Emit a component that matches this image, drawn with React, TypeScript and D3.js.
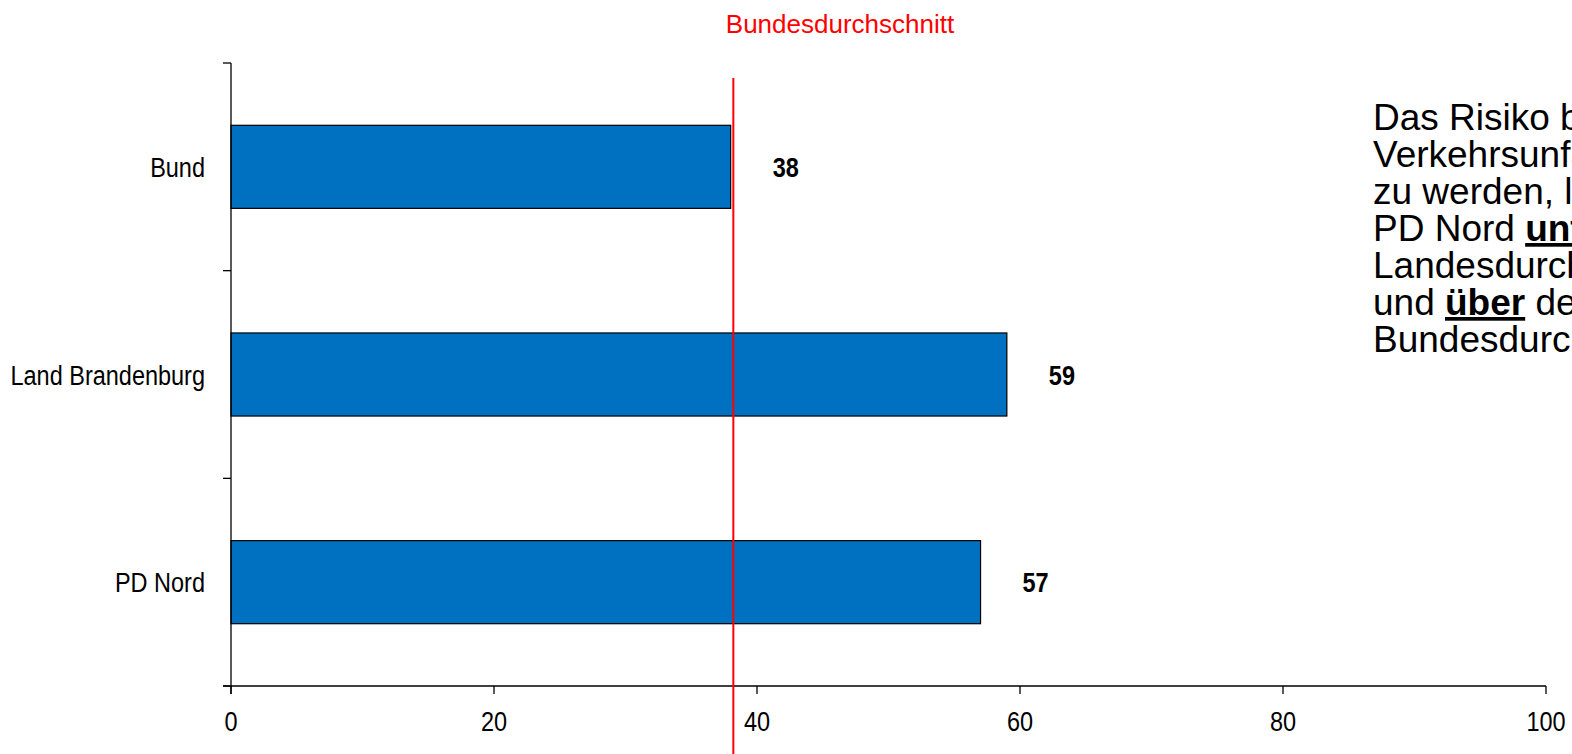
import React from "react";
import * as d3 from "d3";

const categories = ["Bund", "Land Brandenburg", "PD Nord"];
const values = [38, 59, 57];
const xTicks = [0, 20, 40, 60, 80, 100];
const averageValue = 38.2;
const averageLabel = "Bundesdurchschnitt";
const noteLines: { text: string; strong?: boolean }[][] = [
  [{ text: "Das Risiko bei einem" }],
  [{ text: "Verkehrsunfall verletzt" }],
  [{ text: "zu werden, liegt in der" }],
  [{ text: "PD Nord " }, { text: "unter", strong: true }, { text: " dem" }],
  [{ text: "Landesdurchschnitt" }],
  [{ text: "und " }, { text: "über", strong: true }, { text: " dem" }],
  [{ text: "Bundesdurchschnitt." }],
];

const W = 1572;
const H = 754;
const SANS = "'Liberation Sans', Arial, sans-serif";
const CONDENSE = 0.87;

function Narrow(props: {
  x: number;
  y: number;
  anchor?: "start" | "middle" | "end";
  size: number;
  bold?: boolean;
  children: React.ReactNode;
}) {
  return (
    <g transform={`translate(${props.x},${props.y}) scale(${CONDENSE},1)`}>
      <text
        x={0}
        y={0}
        textAnchor={props.anchor || "start"}
        fontFamily={SANS}
        fontSize={props.size}
        fontWeight={props.bold ? "bold" : "normal"}
        fill="#000"
      >
        {props.children}
      </text>
    </g>
  );
}

export default function App() {
  const x = d3.scaleLinear().domain([0, 100]).range([231, 1546]);
  const y = d3
    .scaleBand<string>()
    .domain(categories)
    .range([63, 686])
    .paddingInner(0.6)
    .paddingOuter(0.3);
  const step = y.step();
  const boundaries = [0, 1, 2, 3].map((i) => 63 + i * step);
  const x0 = x(0);
  const yBottom = 686;
  const avgX = x(averageValue);

  return (
    <svg
      width={W}
      height={H}
      viewBox={`0 0 ${W} ${H}`}
      style={{ position: "absolute", left: 0, top: 0, background: "#fff" }}
    >
      <defs>
        <clipPath id="page">
          <rect x={0} y={0} width={W} height={H} />
        </clipPath>
      </defs>
      <rect x={0} y={0} width={W} height={H} fill="#fff" />
      {/* bars */}
      {categories.map((c, i) => (
        <g key={c}>
          <rect
            x={x0}
            y={y(c)}
            width={x(values[i]) - x0}
            height={y.bandwidth()}
            fill="#0070C0"
            stroke="#000"
            strokeWidth={1.2}
          />
          <Narrow x={x(values[i]) + 42} y={(y(c) as number) + y.bandwidth() / 2 + 10} size={27} bold>
            {values[i]}
          </Narrow>
          <Narrow x={205} y={(y(c) as number) + y.bandwidth() / 2 + 10} size={27} anchor="end">
            {c}
          </Narrow>
        </g>
      ))}
      {/* y axis */}
      <line x1={x0} x2={x0} y1={63} y2={yBottom + 8} stroke="#000" strokeWidth={1.3} />
      {boundaries.map((b, i) => (
        <line key={i} x1={x0 - 8} x2={x0} y1={b} y2={b} stroke="#000" strokeWidth={1.3} />
      ))}
      {/* x axis */}
      <line x1={x0 - 8} x2={x(100)} y1={yBottom} y2={yBottom} stroke="#000" strokeWidth={1.3} />
      {xTicks.map((t) => (
        <g key={t}>
          <line x1={x(t)} x2={x(t)} y1={yBottom} y2={yBottom + 8} stroke="#000" strokeWidth={1.3} />
          <Narrow x={x(t)} y={731} size={27} anchor="middle">
            {t}
          </Narrow>
        </g>
      ))}
      {/* average line */}
      <line x1={avgX} x2={avgX} y1={78} y2={H} stroke="#FF0000" strokeWidth={2} />
      <text
        x={840}
        y={33}
        textAnchor="middle"
        fontFamily={SANS}
        fontSize={26}
        fill="#FF0000"
      >
        {averageLabel}
      </text>
      {/* note */}
      <g clipPath="url(#page)">
        <text fontFamily={SANS} fontSize={37} fill="#000">
          {noteLines.map((line, i) => (
            <tspan key={i} x={1373} y={130 + i * 37}>
              {line.map((seg, j) => (
                <tspan
                  key={j}
                  fontWeight={seg.strong ? "bold" : "normal"}
                  style={seg.strong ? { textDecoration: "underline" } : undefined}
                >
                  {seg.text}
                </tspan>
              ))}
            </tspan>
          ))}
        </text>
      </g>
    </svg>
  );
}
